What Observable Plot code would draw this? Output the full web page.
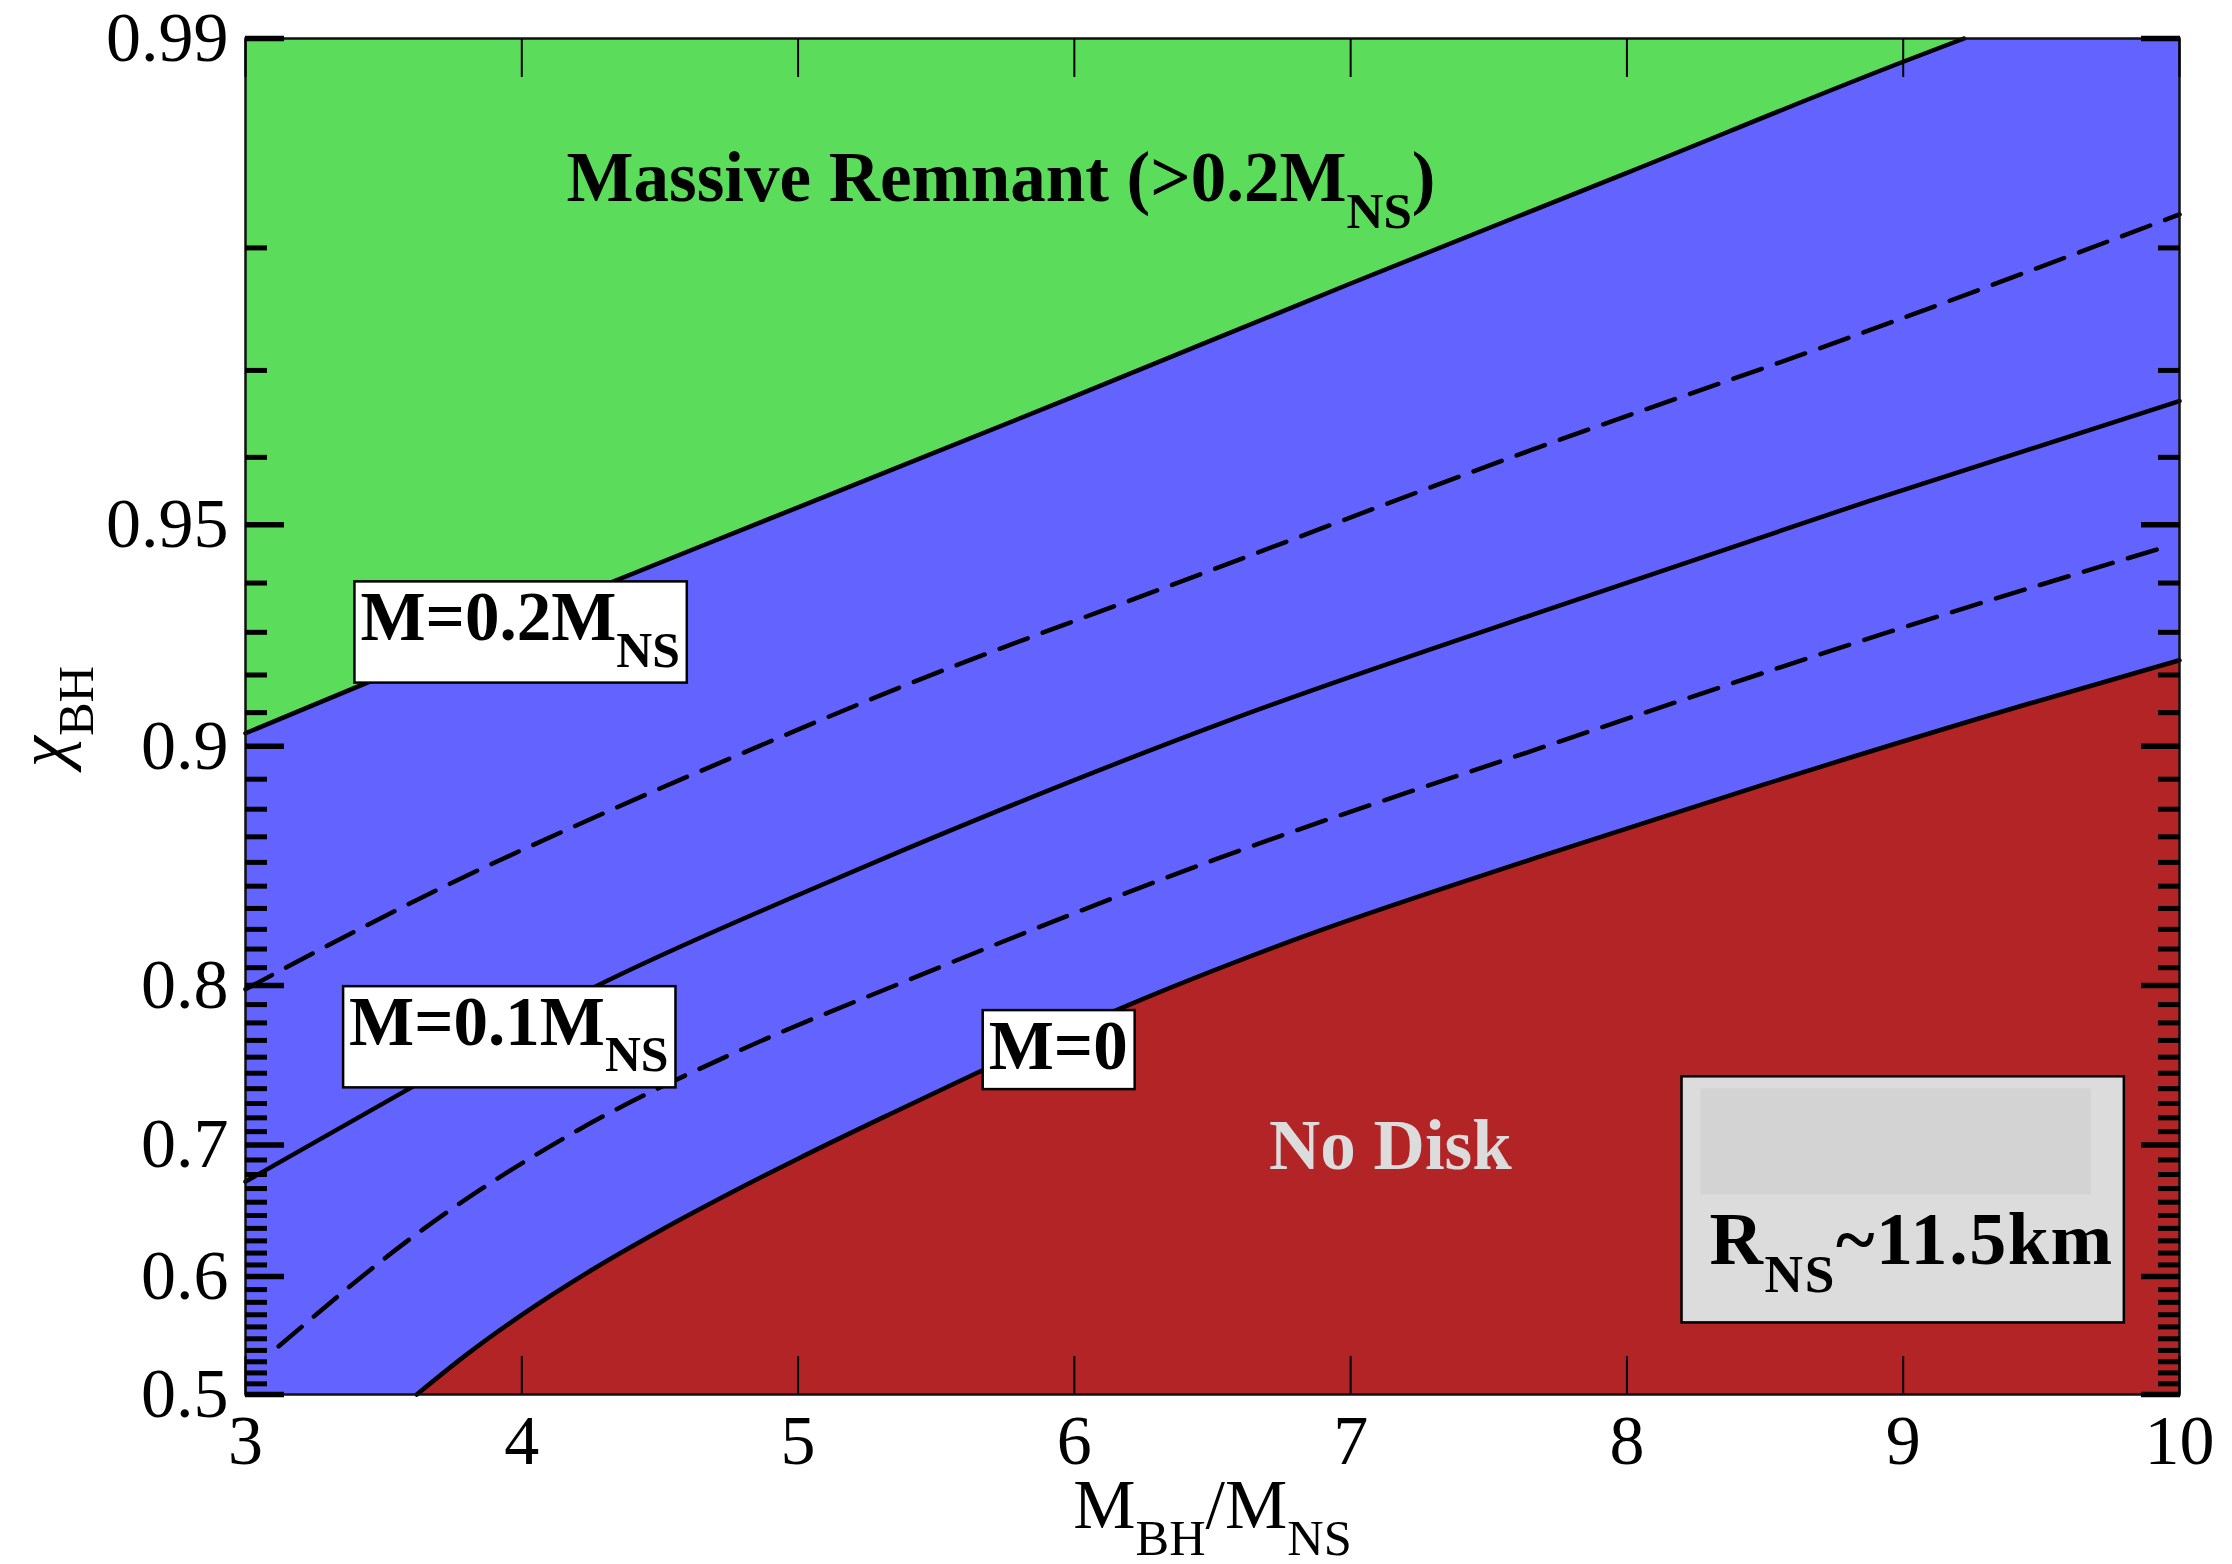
<!DOCTYPE html>
<html>
<head>
<meta charset="utf-8">
<script src="https://cdn.jsdelivr.net/npm/d3@7"></script>
<script src="https://cdn.jsdelivr.net/npm/@observablehq/plot@0.6"></script>
<style>
  html, body { margin: 0; padding: 0; background: #ffffff; }
  #chart svg { display: block; }
</style>
</head>
<body>
<div id="chart"></div>
<script>
// ---------------- data ----------------
const massRatioTicks = [3, 4, 5, 6, 7, 8, 9, 10];
const spinTicks = [0.5, 0.6, 0.7, 0.8, 0.9, 0.95, 0.99];
const spinTickLabels = ["0.5", "0.6", "0.7", "0.8", "0.9", "0.95", "0.99"];
// the chi axis is non-linear: fraction of the axis height at each labelled spin
const spinAxisStops = [0, 0.087, 0.184, 0.3017, 0.478, 0.6414, 1];

// M = 0.2 M_NS contour (green / blue boundary)
const m020_q   = [3, 4, 5, 6, 7, 8, 9, 9.22];
const m020_chi = [0.904, 0.933, 0.9528, 0.9673, 0.9775, 0.9844, 0.9892, 0.99];
// M = 0.15 M_NS (dashed)
const m015_q   = [3, 3.13, 3.71, 4.29, 4.89, 5.3, 6.46, 7.65, 8.84, 10];
const m015_chi = [0.798, 0.8087, 0.8493, 0.8783, 0.9012, 0.9148, 0.9417, 0.9609, 0.9734, 0.9821];
// M = 0.1 M_NS
const m010_q   = [3, 3.62, 4.26, 4.96, 5.37, 6.56, 7.67, 8.87, 10];
const m010_chi = [0.675, 0.7428, 0.7989, 0.844, 0.8644, 0.9078, 0.934, 0.9537, 0.9668];
// M = 0.05 M_NS (dashed)
const m005_q   = [3.12, 3.64, 4.2, 4.78, 5.37, 6.52, 7.69, 8.96, 9.97];
const m005_chi = [0.5435, 0.6388, 0.7107, 0.7634, 0.8012, 0.8616, 0.8996, 0.9303, 0.9467];
// M = 0 contour (blue / red boundary)
const m000_q   = [3.62, 3.8, 4.0, 4.25, 4.5, 4.75, 5.0, 5.33, 5.66, 6.2, 6.82, 7.67, 8.5, 9.46, 10];
const m000_chi = [0.5, 0.5363, 0.5699, 0.6052, 0.6381, 0.6662, 0.6909, 0.7224, 0.7512, 0.79, 0.826, 0.8618, 0.8884, 0.9126, 0.9236];

// annotations (anchor in data units)
const boxedLabels = [
  {q: 3.416, chi: 0.933, text: "M=0.2M_{NS}"},
  {q: 3.375, chi: 0.7799, text: "M=0.1M_{NS}"},
  {q: 5.69, chi: 0.7661, text: "M=0"}
];
const remnantLabel = [{q: 4.162, chi: 0.9841, text: "Massive Remnant (>0.2M_{NS})"}];
const noDiskLabel = [{q: 7.144, chi: 0.6993, text: "No Disk"}];
const legendLabel = [{q: 8.299, chi: 0.6302, text: "R_{NS}~11.5km"}];

// ---------------- helpers ----------------
const zip = (qs, cs) => qs.map((q, i) => ({q, chi: cs[i]}));
const Lt = spinTicks.map(c => Math.log10(1 - c));
function T(chi) {
  const L = Math.log10(1 - chi);
  let i = 0;
  while (i < Lt.length - 2 && L < Lt[i + 1]) i++;
  const t = (L - Lt[i]) / (Lt[i + 1] - Lt[i]);
  return spinAxisStops[i] + t * (spinAxisStops[i + 1] - spinAxisStops[i]);
}
const majorT = spinTicks.map(T);
const minorT = d3.range(51, 99).map(i => i / 100)
  .filter(v => !spinTicks.some(t => Math.abs(t - v) < 1e-9)).map(T);
const labelFor = v => {
  const i = majorT.findIndex(m => Math.abs(m - v) < 1e-9);
  return i >= 0 ? spinTickLabels[i] : "";
};

const rowsA = zip(m020_q, m020_chi), rowsB = zip(m015_q, m015_chi), rowsC = zip(m010_q, m010_chi),
      rowsD = zip(m005_q, m005_chi), rowsE = zip(m000_q, m000_chi);

const green = "#5bdc5b", blue = "#6363ff", red = "#b22426";
const yv = d => T(d.chi);
const lineOpts = {x: "q", y: yv, stroke: "black", strokeWidth: 4.5, curve: "monotone-x"};

const plot = Plot.plot({
  width: 2232,
  height: 1564,
  marginLeft: 245,
  marginRight: 53,
  marginTop: 38,
  marginBottom: 170,
  x: {domain: [3, 10]},
  y: {domain: [0, 1]},
  style: {fontFamily: "'Liberation Serif', 'Times New Roman', serif", fontSize: "70px", color: "black", background: "white"},
  marks: [
    Plot.frame({fill: blue, stroke: null}),
    Plot.areaY(rowsA, {x: "q", y1: yv, y2: 1, fill: green, curve: "monotone-x"}),
    Plot.areaY(rowsE, {x: "q", y1: 0, y2: yv, fill: red, curve: "monotone-x"}),
    Plot.line(rowsA, lineOpts),
    Plot.line(rowsB, {...lineOpts, strokeDasharray: "30,16"}),
    Plot.line(rowsC, lineOpts),
    Plot.line(rowsD, {...lineOpts, strokeDasharray: "30,16"}),
    Plot.line(rowsE, lineOpts),
    Plot.frame({stroke: "#111", strokeWidth: 2.5}),
    // y ticks (inward) left + right
    Plot.axisY({anchor: "left", ticks: minorT, tickSize: 22, dx: 22, strokeWidth: 5, fill: "none", label: null}),
    Plot.axisY({anchor: "left", ticks: majorT, tickSize: 39, dx: 39, strokeWidth: 5.5, fill: "none", label: null}),
    Plot.axisY({anchor: "right", ticks: minorT, tickSize: 22, dx: -22, strokeWidth: 5, fill: "none", label: null}),
    Plot.axisY({anchor: "right", ticks: majorT, tickSize: 39, dx: -39, strokeWidth: 5.5, fill: "none", label: null}),
    Plot.axisY({anchor: "left", ticks: majorT, tickSize: 0, tickPadding: 17, tickFormat: labelFor, fontSize: 70, label: null}),
    // x ticks (inward) bottom + top
    Plot.axisX({anchor: "bottom", ticks: massRatioTicks, tickSize: 38, dy: -38, strokeWidth: 2, fill: "none", label: null}),
    Plot.axisX({anchor: "top", ticks: massRatioTicks, tickSize: 38, dy: 38, strokeWidth: 2, fill: "none", label: null}),
    Plot.axisX({anchor: "bottom", ticks: massRatioTicks, tickSize: 0, tickPadding: 20, tickFormat: d => String(d), fontSize: 70, label: null}),
    // axis titles
    Plot.text(["M_{BH}/M_{NS}"], {frameAnchor: "bottom", textAnchor: "middle", lineAnchor: "middle", dy: 111, fontSize: 70, fill: "black"}),
    Plot.text(["\u03C7_{BH}"], {frameAnchor: "left", textAnchor: "middle", lineAnchor: "middle", dx: -202, rotate: -90, fontSize: 70, fill: "black"}),
    // annotations
    Plot.text(remnantLabel, {x: "q", y: yv, text: "text", textAnchor: "start", lineAnchor: "middle", fontSize: 71, fontWeight: "bold", fill: "black"}),
    Plot.text(noDiskLabel, {x: "q", y: yv, text: "text", textAnchor: "middle", lineAnchor: "middle", fontSize: 71, fontWeight: "bold", fill: "#dcdcdc"}),
    Plot.text(boxedLabels, {x: "q", y: yv, text: "text", textAnchor: "start", lineAnchor: "middle", fontSize: 69, fontWeight: "bold", fill: "black", ariaDescription: "boxed-label"}),
    Plot.text(legendLabel, {x: "q", y: yv, text: "text", textAnchor: "start", lineAnchor: "middle", fontSize: 74, fontWeight: "bold", fill: "black", ariaDescription: "legend-label"})
  ]
});

document.getElementById("chart").append(plot);

// ---------------- subscripts ----------------
const NS = "http://www.w3.org/2000/svg";
plot.querySelectorAll("text").forEach(t => {
  const s = t.textContent;
  if (!s.includes("_{")) return;
  const fs = parseFloat(getComputedStyle(t).fontSize) || 70;
  const parts = s.split(/(_\{[^}]*\})/).filter(p => p);
  t.textContent = "";
  let shifted = false;
  for (const p of parts) {
    const ts = document.createElementNS(NS, "tspan");
    if (p.startsWith("_{")) {
      ts.textContent = p.slice(2, -1);
      ts.setAttribute("font-size", (fs * 0.72).toFixed(1));
      ts.setAttribute("dy", (fs * 0.38).toFixed(1));
      shifted = true;
    } else {
      ts.textContent = p;
      if (p.includes("\u03C7")) ts.setAttribute("font-style", "italic");
      if (shifted) { ts.setAttribute("dy", (-fs * 0.38).toFixed(1)); shifted = false; }
    }
    t.appendChild(ts);
  }
});

// legend text is set slightly wider in the reference
plot.querySelectorAll('g[aria-description="legend-label"] text').forEach(t => t.setAttribute("letter-spacing", "1.6"));

// ---------------- label boxes ----------------
function addRect(t, x, y, w, h, fill, stroke) {
  const r = document.createElementNS(NS, "rect");
  r.setAttribute("x", x); r.setAttribute("y", y);
  r.setAttribute("width", w); r.setAttribute("height", h);
  r.setAttribute("fill", fill);
  r.setAttribute("stroke", stroke || "none");
  r.setAttribute("stroke-width", 2.5);
  if (t.getAttribute("transform")) r.setAttribute("transform", t.getAttribute("transform"));
  t.parentNode.insertBefore(r, t);
}
plot.querySelectorAll('g[aria-description="boxed-label"] text').forEach(t => {
  const b = t.getBBox();
  addRect(t, b.x - 6, b.y + 2, b.width + 13, b.height + 3, "white", "black");
});
plot.querySelectorAll('g[aria-description="legend-label"] text').forEach(t => {
  const b = t.getBBox();
  const ox = b.x - 28, oy = b.y - 122, ow = b.width + 38, oh = b.height + 122 + 18;
  addRect(t, ox, oy, ow, oh, "#dcdcdc", "black");
  addRect(t, ox + 19, oy + 12, ow - 52, 106, "#d3d3d3", null);
});
</script>
</body>
</html>
